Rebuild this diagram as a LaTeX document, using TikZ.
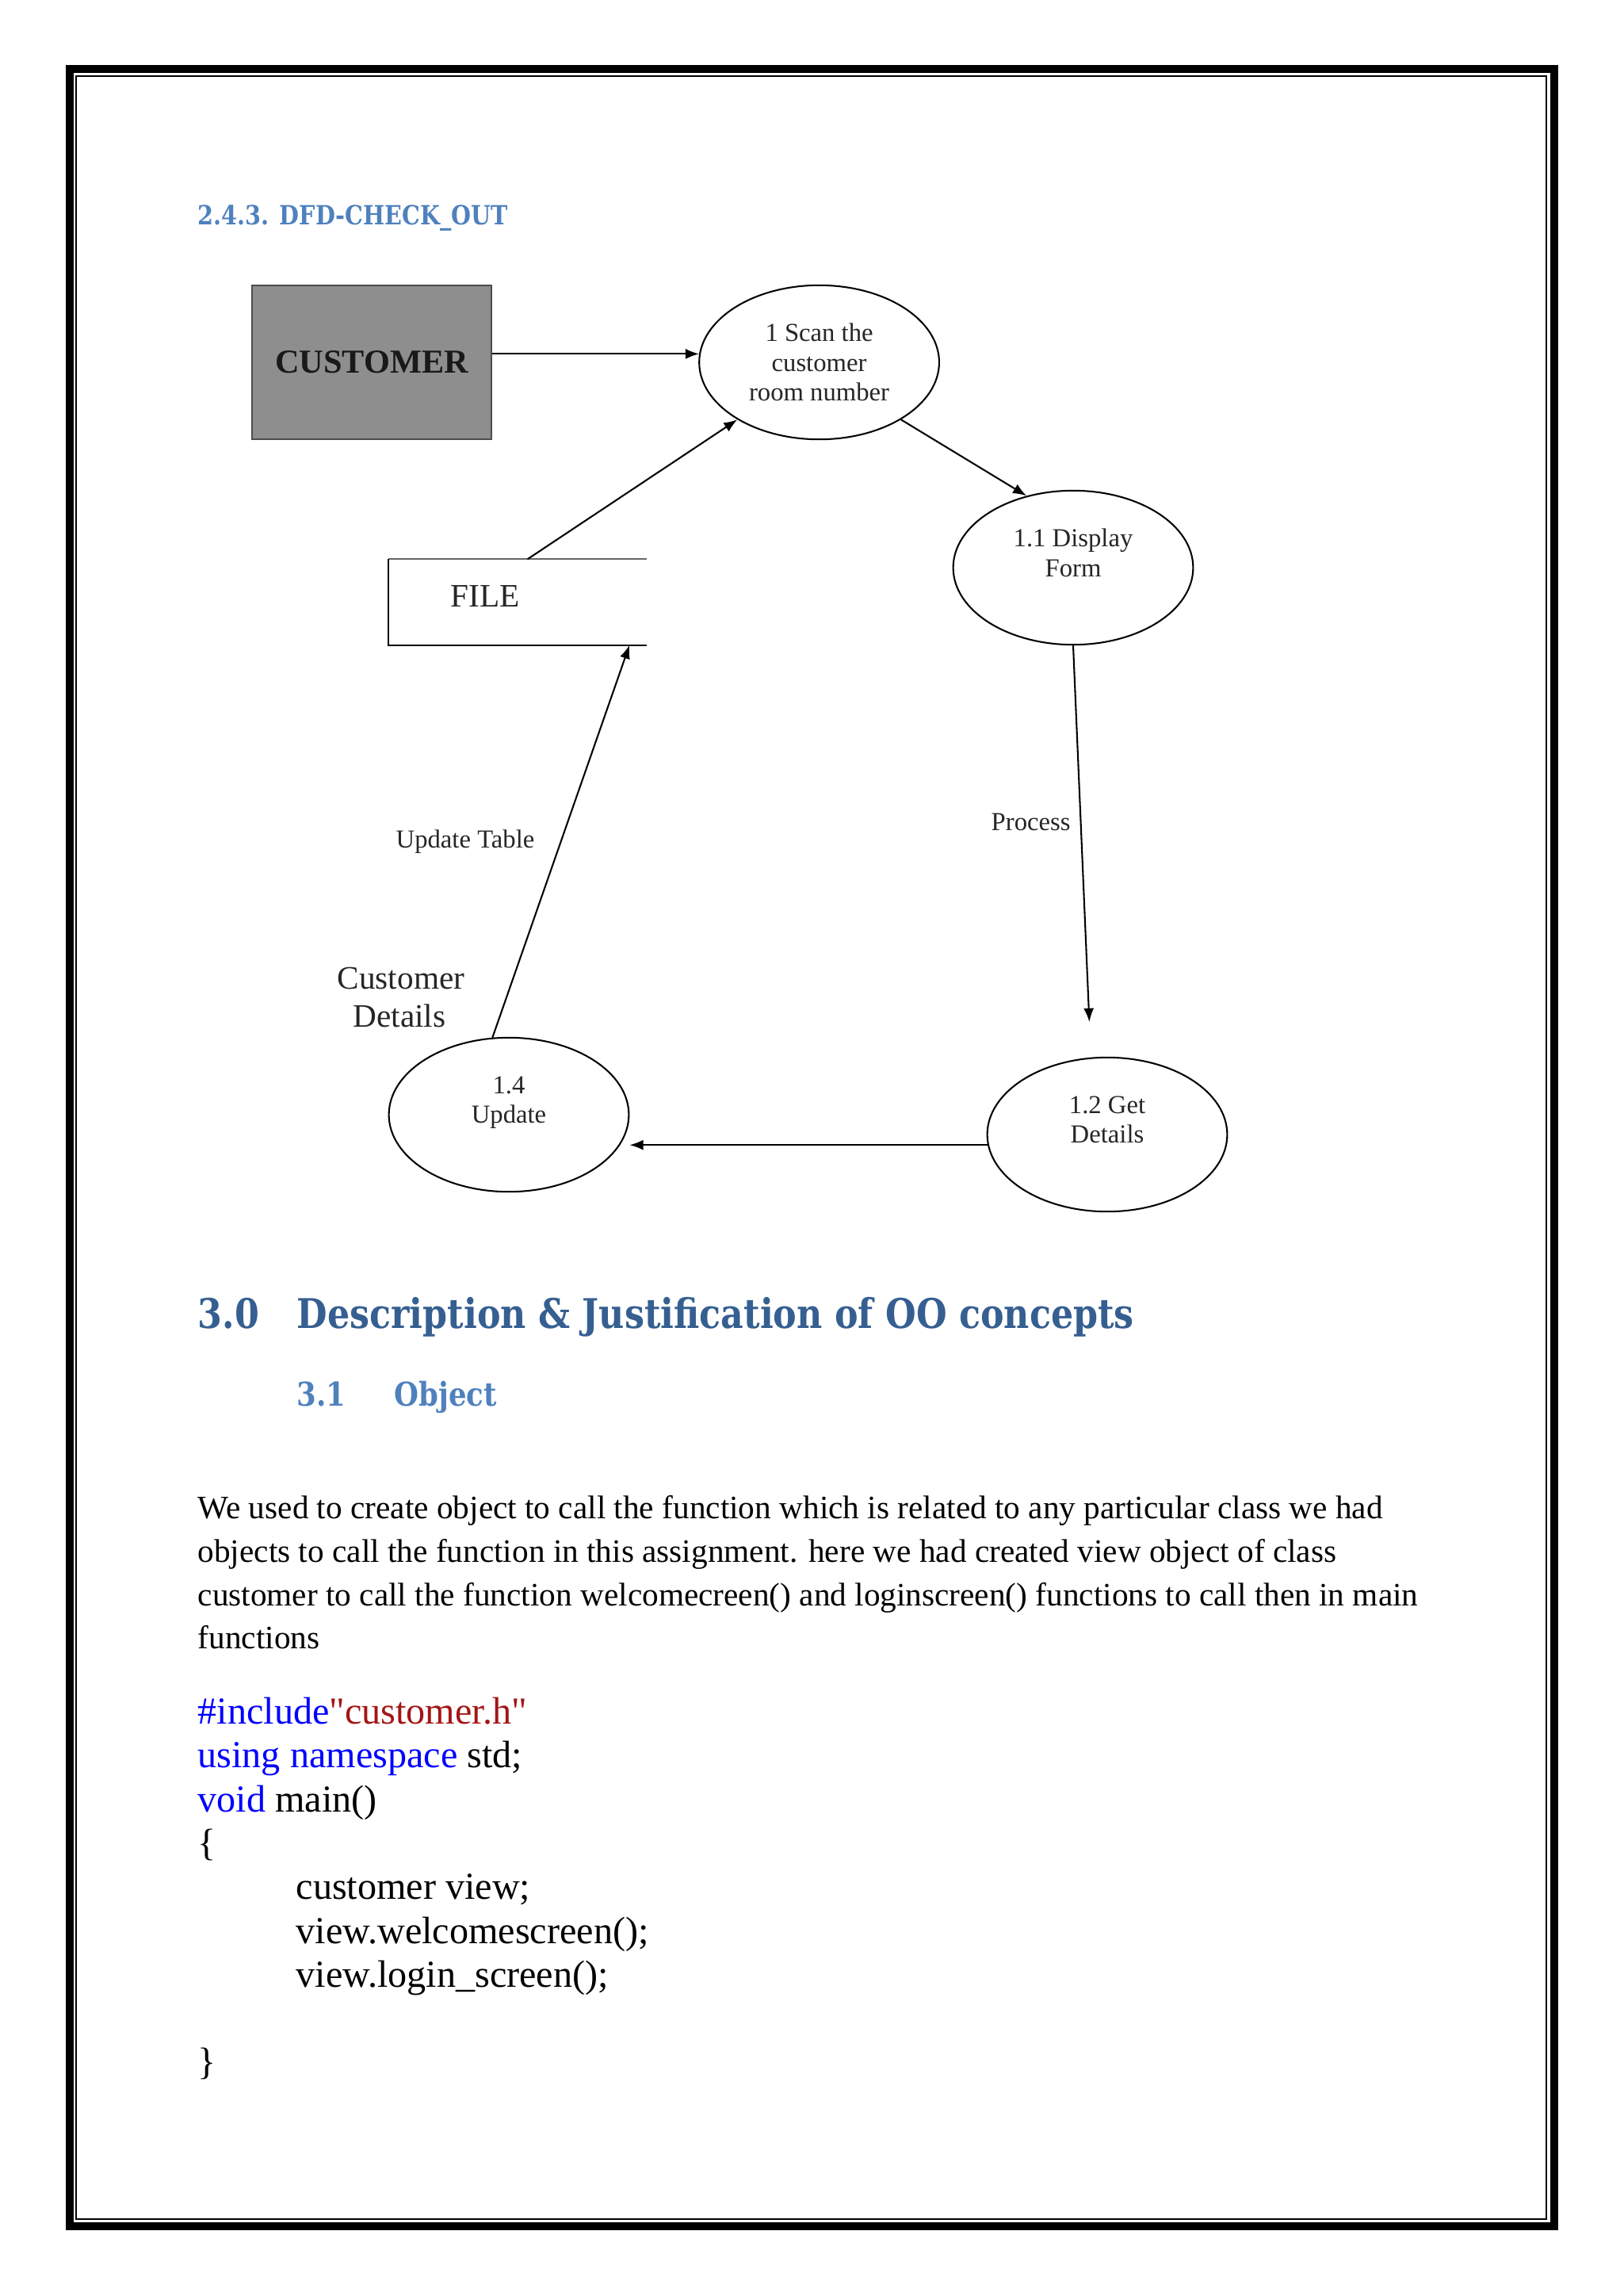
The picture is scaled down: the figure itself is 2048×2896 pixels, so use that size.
\documentclass[tikz,border=0pt]{standalone}
\usepackage{fontspec}
\setmainfont{Liberation Serif}
\newfontfamily\headfont{DejaVu Serif}[FakeStretch=0.86]
\usetikzlibrary{shapes.geometric,arrows.meta,positioning}
\definecolor{headblue}{HTML}{365F91}
\definecolor{subblue}{HTML}{4F81BD}
\definecolor{codered}{HTML}{A31515}
\definecolor{custgray}{HTML}{8E8E8E}
\newcommand{\kw}[1]{{\color{blue}#1}}

\begin{document}
\begin{tikzpicture}[x=0.290664pt, y=-0.290664pt, node distance=75.6pt,
    proc/.style={draw, ellipse, line width=0.6pt, minimum width=88pt, minimum height=56.5pt, inner sep=0pt, align=center, font=\fontsize{9.5}{10.9}\selectfont, text=black!85},
    flow/.style={-{Latex[length=5pt,width=3.8pt]}, line width=0.6pt},
    lbl/.style={inner sep=0pt, anchor=base west, font=\fontsize{9.5}{10.9}\selectfont, text=black!85},
    big/.style={inner sep=0pt, anchor=base, font=\fontsize{12}{14}\selectfont, text=black!85},
    head/.style={inner sep=0pt, anchor=base west, font=\headfont\bfseries\fontsize{#1}{#1}\selectfont},
    body/.style={inner sep=0pt, anchor=base west, font=\fontsize{12}{14}\selectfont},
    code/.style={inner sep=0pt, anchor=base west, font=\fontsize{14}{16}\selectfont}]

  \useasboundingbox (0,0) rectangle (2048,2896);
  % page frame
  \draw[line width=2.9pt] (88,87) rectangle (1961,2808);
  \draw[line width=0.6pt] (96,96) rectangle (1951,2799);

  \node[head=9.7, text=subblue] (ttl) at (249,283) {2.4.3. DFD-CHECK\_OUT};

  % dfd
  \node[draw=black!70, fill=custgray, line width=0.6pt, minimum width=87.8pt, minimum height=56.4pt, font=\bfseries\fontsize{12.3}{14}\selectfont, text=black!90] (cust) at (469,457) {CUSTOMER};
  \node[proc, right=of cust] (scan) {1 Scan the\\customer\\room number};
  \node[proc] (disp) at (1354,716) {1.1 Display\\Form\\\mbox{}};
  \node[proc] (get) at (1397,1431) {1.2 Get\\Details\\\mbox{}};
  \node[proc] (upd) at (642,1406) {1.4\\Update\\\mbox{}};
  \node[minimum width=94.2pt, minimum height=31.1pt, inner sep=0pt] (file) at (653,759.5) {};
  \node[inner sep=0pt, anchor=base west, font=\fontsize{12}{14}\selectfont, text=black!85] (filetxt) at (568,765) {FILE};
  \draw[line width=0.6pt, black!60] (file.north east) -- (file.north west);
  \draw[line width=0.6pt] (file.north west) -- (file.south west) -- (file.south east);

  \draw[flow] (cust.east |- scan.176) -- (scan.176);
  \draw[flow] (scan.325) -- (disp.123);
  \draw[flow] (file.77) -- (scan.215);
  \draw[flow, shorten >=13pt] (disp.south) -- (get.102);
  \draw[flow] (get.185) -- (get.185 -| upd.east);
  \draw[flow] (upd.102) -- (file.339);

  \node[lbl] (uptab) at (499,1069) {Update Table};
  \node[lbl] (proclbl) at (1250,1047) {Process};
  \node[big] (cdet1) at (506,1247) {Customer};
  \node[big] (cdet2) at (504,1295) {Details};

  % headings
  \node[head=15, text=headblue] (secnum) at (249,1675) {3.0};
  \node[head=15, text=headblue] (sectitle) at (374,1675) {Description \& Justification of OO concepts};
  \node[head=12, text=subblue] (subnum) at (374,1773) {3.1};
  \node[head=12, text=subblue] (subtitle) at (497,1773) {Object};

  % text
  \node[body] (par1) at (249,1915) {We used to create object to call the function which is related to any particular class we had};
  \node[body] (par2) at (249,1970) {objects to call the function in this assignment. here we had created view object of class};
  \node[body] (par3) at (249,2025) {customer to call the function welcomecreen() and loginscreen() functions to call then in main};
  \node[body] (par4) at (249,2079) {functions};

  % code
  \node[code] (inc) at (249,2174) {\kw{\#include}{\color{codered}\textquotedbl customer.h\textquotedbl}};
  \node[code] (usens) at (249,2229) {\kw{using namespace} std;};
  \node[code] (voidm) at (249,2285) {\kw{void} main()};
  \node[code] (obr) at (249,2340) {\{};
  \node[code] (cview) at (373,2395) {customer view;};
  \node[code] (cwel) at (373,2451) {view.welcomescreen();};
  \node[code] (clog) at (373,2506) {view.login\_screen();};
  \node[code] (cbr) at (249,2616) {\}};
\end{tikzpicture}
\end{document}
